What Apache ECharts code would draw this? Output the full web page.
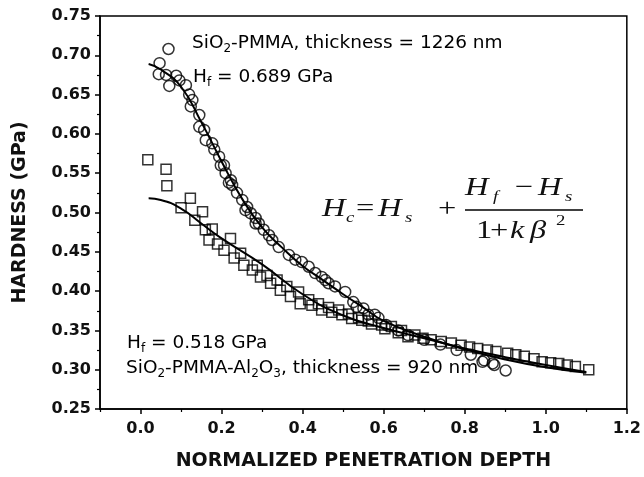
<!DOCTYPE html>
<html>
<head>
<meta charset="utf-8">
<script src="https://cdn.jsdelivr.net/npm/echarts@6/dist/echarts.min.js"></script>
<style>
  html, body { margin: 0; padding: 0; background: #fff; }
  #chart { width: 644px; height: 477px; }
</style>
</head>
<body>
<div id="chart"></div>
<script>
// SiO2-PMMA (circles), [depth, hardness]
var circlePoints = [
  [0.045,0.676],[0.047,0.690],[0.063,0.675],[0.069,0.708],[0.071,0.661],[0.088,0.674],
  [0.096,0.668],[0.112,0.662],[0.120,0.650],[0.124,0.635],[0.128,0.643],[0.145,0.624],
  [0.145,0.609],[0.157,0.605],[0.161,0.592],[0.177,0.588],[0.182,0.580],[0.194,0.571],
  [0.198,0.560],[0.206,0.560],[0.210,0.550],[0.218,0.538],[0.223,0.541],[0.226,0.535],
  [0.238,0.525],[0.251,0.516],[0.259,0.503],[0.263,0.507],[0.272,0.499],[0.284,0.493],
  [0.284,0.486],[0.292,0.486],[0.304,0.478],[0.317,0.471],[0.325,0.465],[0.341,0.456],
  [0.366,0.446],[0.382,0.440],[0.398,0.437],[0.415,0.431],[0.431,0.423],[0.447,0.418],
  [0.456,0.414],[0.464,0.410],[0.480,0.406],[0.505,0.399],[0.525,0.386],[0.533,0.380],
  [0.550,0.378],[0.562,0.370],[0.578,0.370],[0.587,0.366],[0.606,0.357],[0.636,0.350],
  [0.660,0.344],[0.700,0.338],[0.740,0.332],[0.780,0.325],[0.815,0.319],[0.844,0.310],
  [0.848,0.312],[0.869,0.308],[0.873,0.306],[0.901,0.299]
];
// SiO2-PMMA-Al2O3 (squares), [depth, hardness]
var squarePoints = [
  [0.018,0.567],[0.063,0.555],[0.065,0.534],[0.100,0.506],[0.123,0.518],[0.134,0.490],
  [0.153,0.501],[0.160,0.478],[0.169,0.465],[0.177,0.479],[0.190,0.460],[0.206,0.452],
  [0.222,0.467],[0.231,0.442],[0.247,0.448],[0.255,0.433],[0.276,0.427],[0.288,0.433],
  [0.296,0.418],[0.312,0.420],[0.321,0.410],[0.337,0.414],[0.345,0.401],[0.361,0.406],
  [0.370,0.393],[0.390,0.399],[0.394,0.384],[0.415,0.389],[0.423,0.382],[0.439,0.384],
  [0.447,0.376],[0.464,0.379],[0.472,0.373],[0.489,0.376],[0.497,0.370],[0.513,0.371],
  [0.521,0.365],[0.538,0.366],[0.546,0.363],[0.562,0.362],[0.570,0.358],[0.595,0.357],
  [0.603,0.352],[0.619,0.355],[0.636,0.347],[0.644,0.350],[0.660,0.342],[0.677,0.344],
  [0.697,0.340],[0.717,0.338],[0.742,0.336],[0.767,0.334],[0.791,0.331],[0.812,0.329],
  [0.832,0.327],[0.856,0.325],[0.877,0.323],[0.906,0.321],[0.926,0.319],[0.947,0.317],
  [0.971,0.314],[0.991,0.310],[1.012,0.309],[1.032,0.308],[1.053,0.306],[1.073,0.304],
  [1.106,0.300]
];
// fitted curves
var circleFitX = [0.02,0.05,0.10,0.15,0.20,0.25,0.30,0.35,0.40,0.45,0.50,0.55,0.60,0.70,0.80,0.90,1.00,1.10];
var circleFitY = [0.689,0.682,0.660,0.615,0.565,0.518,0.481,0.455,0.432,0.414,0.396,0.379,0.362,0.342,0.326,0.313,0.303,0.296];
var squareFitX = [0.02,0.05,0.10,0.15,0.20,0.30,0.40,0.50,0.60,0.70,0.80,0.90,1.00,1.10];
var squareFitY = [0.518,0.516,0.505,0.486,0.467,0.434,0.396,0.369,0.353,0.340,0.327,0.316,0.306,0.297];

var xMajorTicks = [0.0,0.2,0.4,0.6,0.8,1.0,1.2];
var xMinorTicks = [-0.1,0.1,0.3,0.5,0.7,0.9,1.1];

function pairs(xs, ys) {
  return xs.map(function (x, i) { return [x, ys[i]]; });
}

var sans = '"DejaVu Sans", sans-serif';
var serif = '"Liberation Serif", "Times New Roman", serif';
var ink = '#111';

var labelRich = {
  n: { fontFamily: sans, fontSize: 18.5, lineHeight: 22, color: ink },
  s: { fontFamily: sans, fontSize: 12, lineHeight: 10, verticalAlign: 'bottom', color: ink }
};

// one piece of the formula, placed by hand (the scan is a bit stretched sideways)
function eq(str, x, y, size, italic) {
  return {
    type: 'text', x: x, y: y, scaleX: 1.25,
    style: {
      text: str, fill: ink, fontFamily: serif, fontSize: size,
      fontStyle: italic ? 'italic' : 'normal', verticalAlign: 'middle'
    }
  };
}

var myChart = echarts.init(document.getElementById('chart'));
var option = {
  backgroundColor: '#fff',
  animation: false,
  grid: {
    left: 100, right: 14, top: 16, bottom: 68,
    show: true, borderColor: '#000', borderWidth: 1.5
  },
  xAxis: [
    {
      type: 'value', min: -0.1, max: 1.2,
      name: 'NORMALIZED PENETRATION DEPTH',
      nameLocation: 'middle', nameGap: 43,
      nameTextStyle: { fontFamily: sans, fontWeight: 'bold', fontSize: 19, color: ink },
      axisLine: { onZero: false, lineStyle: { color: '#000', width: 1.5 } },
      axisTick: { length: 5, customValues: xMajorTicks, lineStyle: { color: '#000', width: 1.5 } },
      axisLabel: {
        customValues: xMajorTicks, margin: 12,
        fontFamily: sans, fontWeight: 'bold', fontSize: 16, color: ink,
        formatter: function (v) { return v.toFixed(1); }
      },
      splitLine: { show: false }
    },
    {
      type: 'value', min: -0.1, max: 1.2, position: 'bottom',
      axisLine: { show: false, onZero: false },
      axisTick: { length: 3, customValues: xMinorTicks, lineStyle: { color: '#000', width: 1.2 } },
      axisLabel: { show: false },
      splitLine: { show: false }
    }
  ],
  yAxis: {
    type: 'value', min: 0.25, max: 0.75, interval: 0.05,
    name: 'HARDNESS (GPa)',
    nameLocation: 'middle', nameGap: 70,
    nameTextStyle: { fontFamily: sans, fontWeight: 'bold', fontSize: 19, color: ink },
    axisLine: { onZero: false, lineStyle: { color: '#000', width: 1.5 } },
    axisTick: { length: 5, lineStyle: { color: '#000', width: 1.5 } },
    minorTick: { show: true, splitNumber: 2, length: 3, lineStyle: { color: '#000', width: 1.2 } },
    axisLabel: {
      margin: 9, fontFamily: sans, fontWeight: 'bold', fontSize: 16, color: ink,
      formatter: function (v) { return v.toFixed(2); }
    },
    splitLine: { show: false }
  },
  series: [
    {
      name: 'SiO2-PMMA', type: 'scatter', data: circlePoints,
      symbol: 'circle', symbolSize: 11,
      itemStyle: { color: 'rgba(0,0,0,0)', borderColor: '#000', borderWidth: 1.5 }
    },
    {
      name: 'SiO2-PMMA-Al2O3', type: 'scatter', data: squarePoints,
      symbol: 'rect', symbolSize: 10,
      itemStyle: { color: 'rgba(0,0,0,0)', borderColor: '#000', borderWidth: 1.5 }
    },
    {
      name: 'fit 1', type: 'line', data: pairs(circleFitX, circleFitY),
      smooth: true, showSymbol: false, lineStyle: { color: '#000', width: 2 }
    },
    {
      name: 'fit 2', type: 'line', data: pairs(squareFitX, squareFitY),
      smooth: true, showSymbol: false, lineStyle: { color: '#000', width: 2 }
    }
  ],
  graphic: [
    { type: 'text', left: 192, top: 34,
      style: { text: '{n|SiO}{s|2}{n|-PMMA, thickness = 1226 nm}', rich: labelRich } },
    { type: 'text', left: 193, top: 68,
      style: { text: '{n|H}{s|f}{n| = 0.689 GPa}', rich: labelRich } },
    { type: 'text', left: 127, top: 334,
      style: { text: '{n|H}{s|f}{n| = 0.518 GPa}', rich: labelRich } },
    { type: 'text', left: 126, top: 359,
      style: { text: '{n|SiO}{s|2}{n|-PMMA-Al}{s|2}{n|O}{s|3}{n|, thickness = 920 nm}', rich: labelRich } },
    // Hc = Hs + (Hf - Hs) / (1 + k beta^2)
    eq('H', 322, 209, 26, true),
    eq('c', 346, 218, 15, true),
    eq('=', 356, 209, 26, false),
    eq('H', 378, 209, 26, true),
    eq('s', 405, 218, 15, true),
    eq('+', 438, 209, 26, false),
    eq('H', 465, 188, 26, true),
    eq('f', 493, 197, 15, true),
    eq('\u2212', 515, 188, 26, false),
    eq('H', 538, 188, 26, true),
    eq('s', 565, 197, 15, true),
    { type: 'line', shape: { x1: 465, y1: 210, x2: 583, y2: 210 },
      style: { stroke: '#000', lineWidth: 1.5 } },
    eq('1', 476, 231, 26, false),
    eq('+', 490, 231, 26, false),
    eq('k', 510, 231, 26, true),
    eq('\u03b2', 530, 231, 26, true),
    eq('2', 556, 221, 15, false)
  ]
};
myChart.setOption(option);
</script>
</body>
</html>
